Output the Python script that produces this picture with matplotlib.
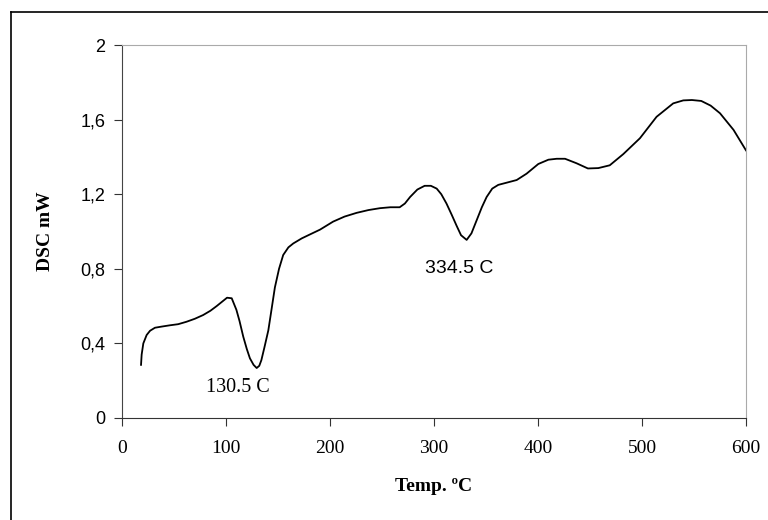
import matplotlib
matplotlib.use('Agg')
import matplotlib.pyplot as plt
from matplotlib.lines import Line2D

# DSC curve
temp = [18.3, 18.9, 20.5, 23.7, 27, 31.7, 38, 46, 54, 62, 70, 78, 85, 91, 97, 101,
        105.5, 110, 113, 116.6, 120, 123, 126.5, 129.5, 132, 134, 137, 140.7, 144,
        147, 151, 155, 160, 164.7, 172.8, 181, 190.4, 203, 214, 225.6, 237, 248,
        258, 267, 272, 277, 284, 291, 297, 302.6, 307, 312, 317, 321.8, 326, 331.4,
        336, 341, 346, 350.6, 356, 361.8, 370, 379.5, 389, 400.3, 410, 418, 426,
        437, 448, 458, 469, 482, 498, 514, 530, 539.7, 548, 557, 566, 575, 588, 600]
dsc = [0.285, 0.34, 0.40, 0.445, 0.468, 0.484, 0.49, 0.497, 0.503, 0.516, 0.532,
       0.552, 0.575, 0.60, 0.627, 0.645, 0.642, 0.58, 0.52, 0.436, 0.37, 0.32,
       0.285, 0.268, 0.28, 0.31, 0.38, 0.47, 0.59, 0.70, 0.80, 0.874, 0.915, 0.936,
       0.963, 0.985, 1.01, 1.053, 1.08, 1.10, 1.115, 1.125, 1.13, 1.13, 1.15, 1.185,
       1.225, 1.245, 1.245, 1.23, 1.20, 1.15, 1.09, 1.03, 0.98, 0.955, 0.99, 1.06,
       1.13, 1.185, 1.23, 1.25, 1.262, 1.276, 1.31, 1.362, 1.385, 1.39, 1.39, 1.366,
       1.338, 1.34, 1.355, 1.415, 1.50, 1.615, 1.687, 1.703, 1.705, 1.70, 1.675,
       1.634, 1.545, 1.435]

x_ticks = [0, 100, 200, 300, 400, 500, 600]
y_ticks = [0, 0.4, 0.8, 1.2, 1.6, 2.0]
y_tick_labels = ['0', '0,4', '0,8', '1,2', '1,6', '2']

serif = 'Liberation Serif'
sans = 'Liberation Sans'

fig = plt.figure(figsize=(7.68, 5.2), dpi=100)
ax = fig.add_axes([122/768, 102/520, 624/768, 373/520])

ax.plot(temp, dsc, color='black', linewidth=1.3)

ax.set_xlim(0, 600)
ax.set_ylim(0, 2)
ax.set_xticks(x_ticks)
ax.set_xticklabels([str(t) for t in x_ticks], family=serif, fontsize=14)
ax.set_yticks(y_ticks)
ax.set_yticklabels(y_tick_labels, family=sans, fontsize=13)
ax.tick_params(axis='x', direction='out', length=6, pad=10, color='#333333')
ax.tick_params(axis='y', direction='out', length=6, pad=6, color='#333333')

ax.spines['left'].set_color('#444444')
ax.spines['bottom'].set_color('#333333')
ax.spines['top'].set_color('#aaaaaa')
ax.spines['right'].set_color('#aaaaaa')

ax.set_xlabel('Temp. ºC', family=serif, fontsize=14, fontweight='bold', labelpad=15)
ax.set_ylabel('DSC mW', family=serif, fontsize=14, fontweight='bold', labelpad=19)

ax.text(111.5, 0.166, '130.5 C', family=serif, fontsize=14.5, ha='center', va='center')
ax.text(324, 0.799, '334.5 C', family=sans, fontsize=14, ha='center', va='center')

# outer frame (only left and top edges show in the picture)
fig.add_artist(Line2D([11/768, 11/768], [0, 1 - 12/520], transform=fig.transFigure,
                      color='black', linewidth=1.2))
fig.add_artist(Line2D([11/768, 1], [1 - 12/520, 1 - 12/520], transform=fig.transFigure,
                      color='black', linewidth=1.2))

fig.savefig('out.png', dpi=100)
